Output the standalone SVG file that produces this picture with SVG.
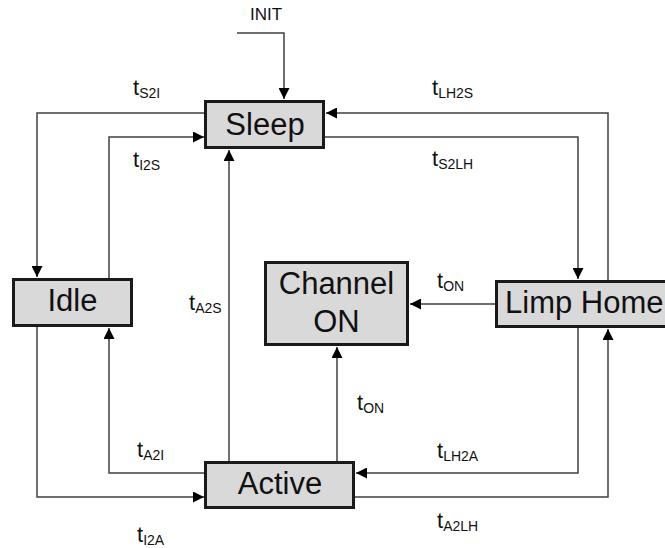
<svg xmlns="http://www.w3.org/2000/svg" width="665" height="548" viewBox="0 0 665 548">
<style>
.node rect{fill:#d9d9d9;stroke:#1a1a1a;stroke-width:3}
.node text{font-family:"Liberation Sans",Arial,sans-serif;font-size:31px;fill:#111}
.conn path{fill:none;stroke:#404040;stroke-width:1.5;marker-end:url(#arr)}
.lbl{font-family:"Liberation Sans",Arial,sans-serif;font-size:22px;fill:#111}
.lbl tspan{font-size:14px}
</style>
<defs>
<marker id="arr" markerUnits="userSpaceOnUse" markerWidth="11" markerHeight="11" refX="11" refY="5.5" orient="auto">
<path d="M0,0 L11,5.5 L0,11 z" fill="#000"/>
</marker>
</defs>
<rect width="665" height="548" fill="#fff"/>
<g id="connectors" class="conn">
<path d="M237,33 H284 V99"/>
<path d="M205,113 H37 V277"/>
<path d="M109,278 V137 H204"/>
<path d="M229,461 V150"/>
<path d="M608,280 V113 H326"/>
<path d="M325,137 H578 V279"/>
<path d="M495,304 H410"/>
<path d="M337,461 V347"/>
<path d="M578,328 V473 H356"/>
<path d="M355,497 H608 V329"/>
<path d="M205,473 H109 V328"/>
<path d="M37,327 V497 H204"/>
</g>
<g id="labels">
<text class="lbl" x="250" y="20" style="font-size:17px">INIT</text>
<text class="lbl" x="133" y="95">t<tspan dy="3">S2I</tspan></text>
<text class="lbl" x="133" y="167">t<tspan dy="3">I2S</tspan></text>
<text class="lbl" x="432" y="95">t<tspan dy="3">LH2S</tspan></text>
<text class="lbl" x="432" y="166">t<tspan dy="3">S2LH</tspan></text>
<text class="lbl" x="189" y="310">t<tspan dy="3">A2S</tspan></text>
<text class="lbl" x="437" y="288">t<tspan dy="3">ON</tspan></text>
<text class="lbl" x="357" y="410">t<tspan dy="3">ON</tspan></text>
<text class="lbl" x="137" y="457">t<tspan dy="3">A2I</tspan></text>
<text class="lbl" x="437" y="458">t<tspan dy="3">LH2A</tspan></text>
<text class="lbl" x="137" y="542">t<tspan dy="3">I2A</tspan></text>
<text class="lbl" x="437" y="528">t<tspan dy="3">A2LH</tspan></text>
</g>
<g id="sleep" class="node">
<rect x="205.5" y="101.5" width="118" height="46"/>
<text x="265" y="135" text-anchor="middle">Sleep</text>
</g>
<g id="idle" class="node">
<rect x="13.5" y="279.5" width="118" height="46"/>
<text x="72.5" y="311" text-anchor="middle">Idle</text>
</g>
<g id="channel-on" class="node">
<rect x="265.5" y="262.5" width="142" height="82"/>
<text x="336.5" y="294" text-anchor="middle">Channel</text>
<text x="336.5" y="332" text-anchor="middle">ON</text>
</g>
<g id="limp-home" class="node">
<rect x="496.5" y="281.5" width="172" height="45"/>
<text x="505" y="313">Limp Home</text>
</g>
<g id="active" class="node">
<rect x="205.5" y="462.5" width="148" height="45"/>
<text x="280" y="494" text-anchor="middle">Active</text>
</g>
</svg>
